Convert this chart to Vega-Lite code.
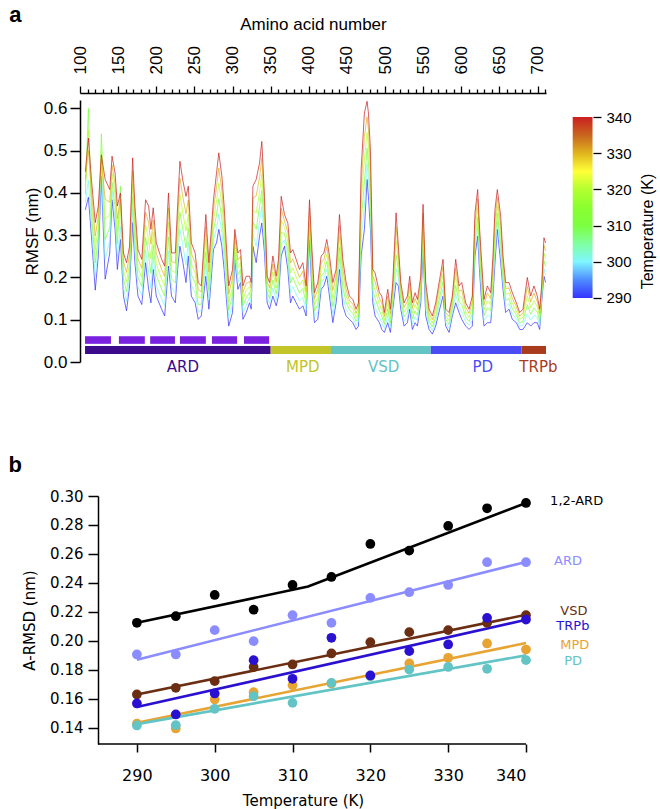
{
"$schema": "https://vega.github.io/schema/vega-lite/v6.json",
"background": "white",
"padding": {"left": 8, "top": 3, "right": 5, "bottom": 5},
"spacing": 78,
"config": {"view": {"stroke": null}, "axis": {"grid": false}},
"resolve": {"scale": {"color": "independent", "fill": "independent"}},
"vconcat": [
{
"width": 466, "height": 262,
"title": {"text": "a", "anchor": "start", "frame": "bounds", "fontSize": 22, "fontWeight": "bold", "font": "Liberation Sans", "offset": -11, "dx": -14},
"resolve": {"scale": {"x": "independent", "y": "independent"}},
"layer": [
{
"encoding": {
"x": {"field": "r", "type": "quantitative", "scale": {"domain": [100, 711], "nice": false, "zero": false},
"axis": {"orient": "top", "values": [100,110,120,130,140,150,160,170,180,190,200,210,220,230,240,250,260,270,280,290,300,310,320,330,340,350,360,370,380,390,400,410,420,430,440,450,460,470,480,490,500,510,520,530,540,550,560,570,580,590,600,610,620,630,640,650,660,670,680,690,700,710],
"labelExpr": "datum.value % 50 === 0 ? datum.label : ''", "labelAngle": 270, "labelAlign": "left", "labelBaseline": "middle",
"tickSize": {"condition": {"test": "datum.value % 50 === 0", "value": 7}, "value": 4},
"title": "Amino acid number", "offset": 7, "domainColor": "black", "tickColor": "black", "domainWidth": 1.5, "tickWidth": 1.3,
"labelFont": "Liberation Sans", "labelFontSize": 17, "labelColor": "black", "labelPadding": 12, "labelOverlap": false, "labelFlush": false, "labelBound": false,
"titleFont": "Liberation Sans", "titleFontSize": 17, "titleFontWeight": "normal", "titleColor": "black", "titlePadding": 12}}
},
"layer": [
{
"data": {"values": [
{"r":107,"290":0.36,"300":0.378,"310":0.396,"320":0.414,"330":0.432,"340":0.45},
{"r":111,"290":0.39,"300":0.43,"310":0.6,"320":0.55,"330":0.5,"340":0.53},
{"r":115,"290":0.298,"300":0.325,"310":0.352,"320":0.378,"330":0.405,"340":0.432},
{"r":120,"290":0.17,"300":0.202,"310":0.234,"320":0.266,"330":0.298,"340":0.33},
{"r":124,"290":0.251,"300":0.275,"310":0.298,"320":0.322,"330":0.345,"340":0.369},
{"r":128,"290":0.44,"300":0.46,"310":0.54,"320":0.5,"330":0.48,"340":0.49},
{"r":133,"290":0.196,"300":0.243,"310":0.29,"320":0.338,"330":0.385,"340":0.432},
{"r":139,"290":0.258,"300":0.288,"310":0.318,"320":0.348,"330":0.378,"340":0.408},
{"r":142,"290":0.384,"300":0.405,"310":0.425,"320":0.446,"330":0.466,"340":0.487},
{"r":146,"290":0.314,"300":0.341,"310":0.367,"320":0.394,"330":0.42,"340":0.447},
{"r":149,"290":0.219,"300":0.249,"310":0.279,"320":0.309,"330":0.339,"340":0.369},
{"r":153,"290":0.29,"300":0.32,"310":0.416,"320":0.37,"330":0.385,"340":0.4},
{"r":157,"290":0.156,"300":0.176,"310":0.197,"320":0.217,"330":0.238,"340":0.258},
{"r":161,"290":0.121,"300":0.144,"310":0.167,"320":0.189,"330":0.212,"340":0.235},
{"r":165,"290":0.18,"300":0.199,"310":0.218,"320":0.236,"330":0.255,"340":0.274},
{"r":169,"290":0.33,"300":0.361,"310":0.391,"320":0.422,"330":0.452,"340":0.483},
{"r":172,"290":0.235,"300":0.262,"310":0.289,"320":0.315,"330":0.342,"340":0.369},
{"r":176,"290":0.156,"300":0.178,"310":0.2,"320":0.222,"330":0.244,"340":0.266},
{"r":181,"290":0.136,"300":0.157,"310":0.179,"320":0.2,"330":0.222,"340":0.243},
{"r":186,"290":0.235,"300":0.265,"310":0.295,"320":0.324,"330":0.354,"340":0.384},
{"r":190,"290":0.172,"300":0.211,"310":0.251,"320":0.29,"330":0.33,"340":0.369},
{"r":193,"290":0.14,"300":0.175,"310":0.21,"320":0.244,"330":0.279,"340":0.314},
{"r":196,"290":0.219,"300":0.248,"310":0.277,"320":0.307,"330":0.336,"340":0.365},
{"r":200,"290":0.156,"300":0.181,"310":0.206,"320":0.232,"330":0.257,"340":0.282},
{"r":207,"290":0.125,"300":0.149,"310":0.172,"320":0.196,"330":0.219,"340":0.243},
{"r":211,"290":0.109,"300":0.133,"310":0.156,"320":0.18,"330":0.203,"340":0.227},
{"r":216,"290":0.227,"300":0.262,"310":0.296,"320":0.331,"330":0.365,"340":0.4},
{"r":220,"290":0.156,"300":0.176,"310":0.197,"320":0.217,"330":0.238,"340":0.258},
{"r":225,"290":0.14,"300":0.164,"310":0.187,"320":0.211,"330":0.234,"340":0.258},
{"r":228,"290":0.219,"300":0.249,"310":0.279,"320":0.309,"330":0.339,"340":0.369},
{"r":231,"290":0.274,"300":0.314,"310":0.354,"320":0.395,"330":0.435,"340":0.475},
{"r":235,"290":0.235,"300":0.274,"310":0.312,"320":0.351,"330":0.389,"340":0.428},
{"r":239,"290":0.188,"300":0.229,"310":0.27,"320":0.31,"330":0.351,"340":0.392},
{"r":242,"290":0.251,"300":0.284,"310":0.317,"320":0.35,"330":0.383,"340":0.416},
{"r":246,"290":0.156,"300":0.181,"310":0.206,"320":0.232,"330":0.257,"340":0.282},
{"r":251,"290":0.14,"300":0.164,"310":0.187,"320":0.211,"330":0.234,"340":0.258},
{"r":255,"290":0.101,"300":0.118,"310":0.136,"320":0.153,"330":0.171,"340":0.188},
{"r":259,"290":0.109,"300":0.123,"310":0.137,"320":0.152,"330":0.166,"340":0.18},
{"r":265,"290":0.203,"300":0.232,"310":0.261,"320":0.291,"330":0.32,"340":0.349},
{"r":269,"290":0.125,"300":0.147,"310":0.169,"320":0.191,"330":0.213,"340":0.235},
{"r":275,"290":0.266,"300":0.29,"310":0.313,"320":0.337,"330":0.36,"340":0.384},
{"r":279,"290":0.282,"300":0.315,"310":0.348,"320":0.381,"330":0.414,"340":0.447},
{"r":282,"290":0.314,"300":0.35,"310":0.386,"320":0.423,"330":0.459,"340":0.495},
{"r":286,"290":0.274,"300":0.307,"310":0.34,"320":0.374,"330":0.407,"340":0.44},
{"r":289,"290":0.219,"300":0.249,"310":0.279,"320":0.309,"330":0.339,"340":0.369},
{"r":292,"290":0.148,"300":0.173,"310":0.198,"320":0.224,"330":0.249,"340":0.274},
{"r":295,"290":0.085,"300":0.104,"310":0.123,"320":0.142,"330":0.161,"340":0.18},
{"r":300,"290":0.117,"300":0.137,"310":0.158,"320":0.178,"330":0.199,"340":0.219},
{"r":303,"290":0.243,"300":0.257,"310":0.271,"320":0.286,"330":0.3,"340":0.314},
{"r":307,"290":0.172,"300":0.189,"310":0.206,"320":0.224,"330":0.241,"340":0.258},
{"r":310.5,"290":0.188,"300":0.204,"310":0.219,"320":0.235,"330":0.25,"340":0.266},
{"r":313.6,"290":0.101,"300":0.117,"310":0.133,"320":0.148,"330":0.164,"340":0.18},
{"r":317.9,"290":0.117,"300":0.134,"310":0.151,"320":0.169,"330":0.186,"340":0.203},
{"r":322.3,"290":0.14,"300":0.153,"310":0.165,"320":0.178,"330":0.19,"340":0.203},
{"r":324.5,"290":0.125,"300":0.138,"310":0.15,"320":0.163,"330":0.175,"340":0.188},
{"r":326.7,"290":0.274,"300":0.302,"310":0.331,"320":0.359,"330":0.388,"340":0.416},
{"r":331,"290":0.235,"300":0.274,"310":0.314,"320":0.353,"330":0.393,"340":0.432},
{"r":335.4,"290":0.298,"300":0.333,"310":0.367,"320":0.402,"330":0.436,"340":0.471},
{"r":338.4,"290":0.329,"300":0.368,"310":0.406,"320":0.445,"330":0.483,"340":0.522},
{"r":341.9,"290":0.258,"300":0.285,"310":0.312,"320":0.338,"330":0.365,"340":0.392},
{"r":345.4,"290":0.14,"300":0.153,"310":0.165,"320":0.178,"330":0.19,"340":0.203},
{"r":348.5,"290":0.125,"300":0.138,"310":0.15,"320":0.163,"330":0.175,"340":0.188},
{"r":352.9,"290":0.156,"300":0.175,"310":0.194,"320":0.213,"330":0.232,"340":0.251},
{"r":357.2,"290":0.133,"300":0.147,"310":0.161,"320":0.175,"330":0.189,"340":0.203},
{"r":360.3,"290":0.156,"300":0.173,"310":0.191,"320":0.208,"330":0.226,"340":0.243},
{"r":363.8,"290":0.251,"300":0.279,"310":0.307,"320":0.336,"330":0.364,"340":0.392},
{"r":368.1,"290":0.274,"300":0.289,"310":0.304,"320":0.319,"330":0.334,"340":0.349},
{"r":372.5,"290":0.219,"300":0.241,"310":0.263,"320":0.285,"330":0.307,"340":0.329},
{"r":376,"290":0.14,"300":0.164,"310":0.187,"320":0.211,"330":0.234,"340":0.258},
{"r":379,"290":0.156,"300":0.178,"310":0.2,"320":0.222,"330":0.244,"340":0.266},
{"r":383.4,"290":0.14,"300":0.161,"310":0.181,"320":0.202,"330":0.222,"340":0.243},
{"r":387.8,"290":0.125,"300":0.144,"310":0.163,"320":0.181,"330":0.2,"340":0.219},
{"r":392.2,"290":0.133,"300":0.153,"310":0.174,"320":0.194,"330":0.215,"340":0.235},
{"r":396.5,"290":0.109,"300":0.123,"310":0.137,"320":0.152,"330":0.166,"340":0.18},
{"r":400.9,"290":0.29,"300":0.309,"310":0.328,"320":0.346,"330":0.365,"340":0.384},
{"r":403.9,"290":0.172,"300":0.192,"310":0.213,"320":0.233,"330":0.254,"340":0.274},
{"r":407.4,"290":0.093,"300":0.107,"310":0.121,"320":0.136,"330":0.15,"340":0.164},
{"r":411.8,"290":0.101,"300":0.118,"310":0.136,"320":0.153,"330":0.171,"340":0.188},
{"r":416.2,"290":0.172,"300":0.188,"310":0.204,"320":0.219,"330":0.235,"340":0.251},
{"r":419.7,"290":0.18,"300":0.196,"310":0.211,"320":0.227,"330":0.242,"340":0.258},
{"r":423.6,"290":0.203,"300":0.22,"310":0.238,"320":0.255,"330":0.273,"340":0.29},
{"r":427.1,"290":0.156,"300":0.175,"310":0.194,"320":0.213,"330":0.232,"340":0.251},
{"r":431.5,"290":0.093,"300":0.112,"310":0.131,"320":0.15,"330":0.169,"340":0.188},
{"r":435.8,"290":0.14,"300":0.156,"310":0.172,"320":0.187,"330":0.203,"340":0.219},
{"r":440.2,"290":0.219,"300":0.245,"310":0.271,"320":0.297,"330":0.323,"340":0.349},
{"r":444.6,"290":0.133,"300":0.155,"310":0.177,"320":0.199,"330":0.221,"340":0.243},
{"r":448.9,"290":0.109,"300":0.125,"310":0.141,"320":0.156,"330":0.172,"340":0.188},
{"r":453.3,"290":0.101,"300":0.112,"310":0.123,"320":0.134,"330":0.145,"340":0.156},
{"r":457.7,"290":0.093,"300":0.104,"310":0.115,"320":0.126,"330":0.137,"340":0.148},
{"r":462,"290":0.077,"300":0.087,"310":0.096,"320":0.106,"330":0.115,"340":0.125},
{"r":465.1,"290":0.085,"300":0.096,"310":0.107,"320":0.118,"330":0.129,"340":0.14},
{"r":468.6,"290":0.251,"300":0.292,"310":0.333,"320":0.373,"330":0.414,"340":0.455},
{"r":472.9,"290":0.314,"300":0.369,"310":0.424,"320":0.479,"330":0.534,"340":0.589},
{"r":476.4,"290":0.432,"300":0.469,"310":0.506,"320":0.543,"330":0.58,"340":0.617},
{"r":478.2,"290":0.392,"300":0.431,"310":0.471,"320":0.51,"330":0.55,"340":0.589},
{"r":480.8,"290":0.314,"300":0.352,"310":0.389,"320":0.427,"330":0.464,"340":0.502},
{"r":483.9,"290":0.14,"300":0.156,"310":0.172,"320":0.187,"330":0.203,"340":0.219},
{"r":486.9,"290":0.109,"300":0.129,"310":0.15,"320":0.17,"330":0.191,"340":0.211},
{"r":492.6,"290":0.093,"300":0.107,"310":0.121,"320":0.136,"330":0.15,"340":0.164},
{"r":495.7,"290":0.077,"300":0.093,"310":0.109,"320":0.124,"330":0.14,"340":0.156},
{"r":499.1,"290":0.07,"300":0.079,"310":0.089,"320":0.098,"330":0.108,"340":0.117},
{"r":503.5,"290":0.093,"300":0.109,"310":0.125,"320":0.14,"330":0.156,"340":0.172},
{"r":507,"290":0.07,"300":0.081,"310":0.092,"320":0.103,"330":0.114,"340":0.125},
{"r":510.1,"290":0.125,"300":0.138,"310":0.15,"320":0.163,"330":0.175,"340":0.188},
{"r":514.4,"290":0.188,"300":0.221,"310":0.254,"320":0.287,"330":0.32,"340":0.353},
{"r":517.5,"290":0.18,"300":0.199,"310":0.218,"320":0.236,"330":0.255,"340":0.274},
{"r":520.6,"290":0.125,"300":0.138,"310":0.15,"320":0.163,"330":0.175,"340":0.188},
{"r":524.9,"290":0.085,"300":0.096,"310":0.107,"320":0.118,"330":0.129,"340":0.14},
{"r":529.3,"290":0.093,"300":0.106,"310":0.118,"320":0.131,"330":0.143,"340":0.156},
{"r":532.3,"290":0.125,"300":0.141,"310":0.156,"320":0.172,"330":0.187,"340":0.203},
{"r":535.8,"290":0.077,"300":0.09,"310":0.102,"320":0.115,"330":0.127,"340":0.14},
{"r":539.3,"290":0.093,"300":0.107,"310":0.121,"320":0.136,"330":0.15,"340":0.164},
{"r":542.4,"290":0.085,"300":0.098,"310":0.11,"320":0.123,"330":0.135,"340":0.148},
{"r":546.8,"290":0.14,"300":0.153,"310":0.165,"320":0.178,"330":0.19,"340":0.203},
{"r":549.8,"290":0.266,"300":0.287,"310":0.309,"320":0.33,"330":0.352,"340":0.373},
{"r":553.3,"290":0.109,"300":0.125,"310":0.141,"320":0.156,"330":0.172,"340":0.188},
{"r":557.7,"290":0.077,"300":0.087,"310":0.096,"320":0.106,"330":0.115,"340":0.125},
{"r":562,"290":0.066,"300":0.075,"310":0.083,"320":0.092,"330":0.1,"340":0.109},
{"r":566.4,"290":0.085,"300":0.096,"310":0.107,"320":0.118,"330":0.129,"340":0.14},
{"r":571.6,"290":0.125,"300":0.139,"310":0.153,"320":0.168,"330":0.182,"340":0.196},
{"r":576,"290":0.156,"300":0.173,"310":0.191,"320":0.208,"330":0.226,"340":0.243},
{"r":579.5,"290":0.085,"300":0.093,"310":0.101,"320":0.109,"330":0.117,"340":0.125},
{"r":583.9,"290":0.07,"300":0.079,"310":0.089,"320":0.098,"330":0.108,"340":0.117},
{"r":588.2,"290":0.109,"300":0.118,"310":0.128,"320":0.137,"330":0.147,"340":0.156},
{"r":592.6,"290":0.14,"300":0.161,"310":0.181,"320":0.202,"330":0.222,"340":0.243},
{"r":597,"290":0.117,"300":0.13,"310":0.142,"320":0.155,"330":0.167,"340":0.18},
{"r":600.5,"290":0.101,"300":0.118,"310":0.136,"320":0.153,"330":0.171,"340":0.188},
{"r":605.7,"290":0.085,"300":0.096,"310":0.107,"320":0.118,"330":0.129,"340":0.14},
{"r":610.1,"290":0.077,"300":0.087,"310":0.096,"320":0.106,"330":0.115,"340":0.125},
{"r":614.4,"290":0.085,"300":0.099,"310":0.113,"320":0.128,"330":0.142,"340":0.156},
{"r":617.9,"290":0.251,"300":0.271,"310":0.292,"320":0.312,"330":0.333,"340":0.353},
{"r":621.4,"290":0.298,"300":0.32,"310":0.342,"320":0.364,"330":0.386,"340":0.408},
{"r":624,"290":0.211,"300":0.232,"310":0.252,"320":0.273,"330":0.293,"340":0.314},
{"r":626.7,"290":0.14,"300":0.159,"310":0.178,"320":0.197,"330":0.216,"340":0.235},
{"r":629.7,"290":0.085,"300":0.098,"310":0.11,"320":0.123,"330":0.135,"340":0.148},
{"r":634.1,"290":0.093,"300":0.11,"310":0.128,"320":0.145,"330":0.163,"340":0.18},
{"r":638.5,"290":0.093,"300":0.107,"310":0.121,"320":0.136,"330":0.15,"340":0.164},
{"r":641.5,"290":0.156,"300":0.175,"310":0.194,"320":0.213,"330":0.232,"340":0.251},
{"r":644.1,"290":0.235,"300":0.26,"310":0.285,"320":0.311,"330":0.336,"340":0.361},
{"r":647.2,"290":0.314,"300":0.333,"310":0.352,"320":0.37,"330":0.389,"340":0.408},
{"r":651.6,"290":0.235,"300":0.257,"310":0.279,"320":0.301,"330":0.323,"340":0.345},
{"r":654.6,"290":0.172,"300":0.188,"310":0.204,"320":0.219,"330":0.235,"340":0.251},
{"r":658.1,"290":0.117,"300":0.131,"310":0.145,"320":0.16,"330":0.174,"340":0.188},
{"r":662.5,"290":0.125,"300":0.138,"310":0.15,"320":0.163,"330":0.175,"340":0.188},
{"r":666.8,"290":0.101,"300":0.114,"310":0.126,"320":0.139,"330":0.151,"340":0.164},
{"r":672.1,"290":0.093,"300":0.102,"310":0.112,"320":0.121,"330":0.131,"340":0.14},
{"r":676.5,"290":0.077,"300":0.085,"310":0.093,"320":0.101,"330":0.109,"340":0.117},
{"r":680.8,"290":0.077,"300":0.087,"310":0.096,"320":0.106,"330":0.115,"340":0.125},
{"r":686.5,"290":0.093,"300":0.114,"310":0.136,"320":0.157,"330":0.179,"340":0.2},
{"r":690.9,"290":0.085,"300":0.099,"310":0.113,"320":0.128,"330":0.142,"340":0.156},
{"r":695.2,"290":0.093,"300":0.11,"310":0.128,"320":0.145,"330":0.163,"340":0.18},
{"r":699.6,"290":0.093,"300":0.106,"310":0.118,"320":0.131,"330":0.143,"340":0.156},
{"r":702.7,"290":0.077,"300":0.087,"310":0.096,"320":0.106,"330":0.115,"340":0.125},
{"r":705.3,"290":0.14,"300":0.148,"310":0.156,"320":0.164,"330":0.172,"340":0.18},
{"r":708.3,"290":0.203,"300":0.221,"310":0.24,"320":0.258,"330":0.276,"340":0.294},
{"r":710.5,"290":0.188,"300":0.207,"310":0.226,"320":0.244,"330":0.263,"340":0.282}
]},
"transform": [{"fold": ["290","300","310","320","330","340"], "as": ["T","v"]}],
"mark": {"type": "line", "strokeWidth": 0.8, "opacity": 0.9},
"encoding": {
"y": {"field": "v", "type": "quantitative", "scale": {"domain": [0, 0.62], "nice": false},
"axis": {"values": [0,0.1,0.2,0.3,0.4,0.5,0.6], "format": ".1f", "title": "RMSF (nm)", "tickSize": 10, "labelPadding": 3, "labelOverlap": false,
"domainColor": "black", "tickColor": "black", "domainWidth": 1.5, "tickWidth": 1.5,
"labelFont": "Liberation Sans", "labelFontSize": 17, "labelColor": "black",
"titleFont": "Liberation Sans", "titleFontSize": 17, "titleFontWeight": "normal", "titleColor": "black", "titlePadding": 2}},
"color": {"field": "T", "type": "quantitative", "legend": null,
"scale": {"domain": [290,295,300,305,310,315,320,325,330,335,340], "range": ["#3333ff","#4f8cff","#80f6ff","#80ffa0","#7cff40","#8aff30","#b4ff30","#ffff38","#e0b41e","#c8641e","#cc2020"]}}
}
},
{
"data": {"values": [
{"dom": "ARD", "r": 106.6, "e": 350},
{"dom": "MPD", "r": 350, "e": 429},
{"dom": "VSD", "r": 429, "e": 560},
{"dom": "PD", "r": 560, "e": 679},
{"dom": "TRPb", "r": 679, "e": 711}
]},
"mark": {"type": "rect"},
"encoding": {
"x2": {"field": "e"},
"y": {"datum": 0.019},
"y2": {"datum": 0.038},
"fill": {"field": "dom", "type": "nominal", "legend": null,
"scale": {"domain": ["ARD","MPD","VSD","PD","TRPb"], "range": ["#3d0a8c","#c2c428","#64c3c3","#4c4cf6","#a83c1c"]}}
}
},
{
"data": {"values": [
{"r": 106.6, "e": 140.6}, {"r": 151, "e": 185}, {"r": 192, "e": 224.5},
{"r": 231, "e": 265}, {"r": 273, "e": 306}, {"r": 315, "e": 348}
]},
"mark": {"type": "rect", "color": "#7a22e0"},
"encoding": {
"x2": {"field": "e"},
"y": {"datum": 0.043},
"y2": {"datum": 0.061}
}
},
{
"data": {"values": [
{"dom": "ARD", "r": 235}, {"dom": "MPD", "r": 392}, {"dom": "VSD", "r": 498}, {"dom": "PD", "r": 628}, {"dom": "TRPb", "r": 701}
]},
"mark": {"type": "text", "font": "DejaVu Sans", "fontSize": 15, "baseline": "middle", "align": "center"},
"encoding": {
"y": {"datum": -0.012},
"text": {"field": "dom"},
"fill": {"field": "dom", "type": "nominal", "legend": null}
}
}
]
},
{
"data": {"values": [{}]},
"mark": {"type": "rect", "fill": {"gradient": "linear", "x1": 0, "y1": 1, "x2": 0, "y2": 0,
"stops": [{"offset": 0, "color": "#3333ff"}, {"offset": 0.1, "color": "#4f8cff"}, {"offset": 0.2, "color": "#80f6ff"}, {"offset": 0.3, "color": "#80ffa0"}, {"offset": 0.4, "color": "#7cff40"}, {"offset": 0.5, "color": "#8aff30"}, {"offset": 0.6, "color": "#b4ff30"}, {"offset": 0.7, "color": "#ffff38"}, {"offset": 0.8, "color": "#e0b41e"}, {"offset": 0.9, "color": "#c8641e"}, {"offset": 1, "color": "#cc2020"}]}},
"encoding": {
"x": {"datum": 746, "type": "quantitative", "scale": {"domain": [100, 711], "nice": false, "zero": false}, "axis": null},
"x2": {"datum": 772},
"y": {"datum": 290, "type": "quantitative", "scale": {"domain": [272.3, 344.7], "nice": false, "zero": false},
"axis": {"orient": "right", "offset": 47, "values": [290,300,310,320,330,340], "domain": false, "tickSize": 8, "tickWidth": 1.3, "tickColor": "black", "labelPadding": 5,
"labelFont": "Liberation Sans", "labelFontSize": 15, "labelColor": "black",
"title": "Temperature (K)", "titleAngle": 270, "titleBaseline": "top", "titleFont": "Liberation Sans", "titleFontSize": 16, "titleFontWeight": "normal", "titleColor": "black", "titlePadding": 8}},
"y2": {"datum": 340}
}
}
]
},
{
"width": 446, "height": 248,
"title": {"text": "b", "anchor": "start", "frame": "bounds", "fontSize": 22, "fontWeight": "bold", "font": "Liberation Sans", "offset": 12, "dx": -14},
"encoding": {
"x": {"field": "T", "type": "quantitative", "scale": {"domain": [282.69, 340], "nice": false, "zero": false},
"axis": {"values": [290,300,310,320,330,340], "title": "Temperature (K)", "domain": false, "tickSize": 8, "labelPadding": 15, "labelOverlap": false,
"tickColor": "black", "tickWidth": 1.5,
"labelFont": "DejaVu Sans", "labelFontSize": 16, "labelColor": "black",
"titleFont": "DejaVu Sans", "titleFontSize": 15, "titleFontWeight": "normal", "titleColor": "black", "titlePadding": 10}},
"y": {"field": "v", "type": "quantitative", "scale": {"domain": [0.1288, 0.3], "nice": false, "zero": false},
"axis": {"values": [0.14,0.16,0.18,0.2,0.22,0.24,0.26,0.28,0.3], "format": ".2f", "title": "A-RMSD (nm)", "offset": -18, "tickSize": 10, "labelPadding": 5, "labelOverlap": false,
"domainColor": "black", "tickColor": "black", "domainWidth": 1.5, "tickWidth": 1.5,
"labelFont": "DejaVu Sans", "labelFontSize": 15, "labelColor": "black",
"titleFont": "DejaVu Sans", "titleFontSize": 15, "titleFontWeight": "normal", "titleColor": "black", "titlePadding": 12}}
},
"layer": [
{
"data": {"values": [{"T": 285, "v": 0.1288}, {"T": 340, "v": 0.1288}]},
"mark": {"type": "line", "color": "black", "strokeWidth": 1.5},
"encoding": {}
},
{
"data": {"values": [
{"g": "1,2-ARD", "T": 290, "v": 0.2125}, {"g": "1,2-ARD", "T": 312, "v": 0.2375}, {"g": "1,2-ARD", "T": 340, "v": 0.2952},
{"g": "ARD", "T": 290, "v": 0.187}, {"g": "ARD", "T": 340, "v": 0.2545},
{"g": "VSD", "T": 290, "v": 0.163}, {"g": "VSD", "T": 340, "v": 0.218},
{"g": "TRPb", "T": 290, "v": 0.1543}, {"g": "TRPb", "T": 340, "v": 0.2145},
{"g": "MPD", "T": 290, "v": 0.1435}, {"g": "MPD", "T": 340, "v": 0.1985},
{"g": "PD", "T": 290, "v": 0.1425}, {"g": "PD", "T": 340, "v": 0.19}
]},
"mark": {"type": "line", "strokeWidth": 2.6},
"encoding": {
"color": {"field": "g", "type": "nominal", "legend": null,
"scale": {"domain": ["1,2-ARD","ARD","VSD","TRPb","MPD","PD"], "range": ["#000000","#8a8cff","#6b2e12","#2a10d0","#e8a432","#62c4c4"]}}
}
},
{
"data": {"values": [
{"g":"1,2-ARD","T":290,"v":0.2125},{"g":"1,2-ARD","T":295,"v":0.217},{"g":"1,2-ARD","T":300,"v":0.2317},{"g":"1,2-ARD","T":305,"v":0.2215},{"g":"1,2-ARD","T":310,"v":0.2386},{"g":"1,2-ARD","T":315,"v":0.2441},{"g":"1,2-ARD","T":320,"v":0.2669},{"g":"1,2-ARD","T":325,"v":0.2623},{"g":"1,2-ARD","T":330,"v":0.2793},{"g":"1,2-ARD","T":335,"v":0.2915},{"g":"1,2-ARD","T":340,"v":0.2952},
{"g":"ARD","T":290,"v":0.1906},{"g":"ARD","T":295,"v":0.1906},{"g":"ARD","T":300,"v":0.2074},{"g":"ARD","T":305,"v":0.1998},{"g":"ARD","T":310,"v":0.2177},{"g":"ARD","T":315,"v":0.2124},{"g":"ARD","T":320,"v":0.2297},{"g":"ARD","T":325,"v":0.2336},{"g":"ARD","T":330,"v":0.2386},{"g":"ARD","T":335,"v":0.2543},{"g":"ARD","T":340,"v":0.2543},
{"g":"VSD","T":290,"v":0.163},{"g":"VSD","T":295,"v":0.1676},{"g":"VSD","T":300,"v":0.1722},{"g":"VSD","T":305,"v":0.182},{"g":"VSD","T":310,"v":0.1837},{"g":"VSD","T":315,"v":0.1913},{"g":"VSD","T":320,"v":0.1991},{"g":"VSD","T":325,"v":0.206},{"g":"VSD","T":330,"v":0.2074},{"g":"VSD","T":335,"v":0.2124},{"g":"VSD","T":340,"v":0.2177},
{"g":"MPD","T":290,"v":0.1428},{"g":"MPD","T":295,"v":0.1395},{"g":"MPD","T":300,"v":0.1595},{"g":"MPD","T":305,"v":0.1646},{"g":"MPD","T":310,"v":0.1694},{"g":"MPD","T":315,"v":0.1706},{"g":"MPD","T":320,"v":0.1756},{"g":"MPD","T":325,"v":0.1844},{"g":"MPD","T":330,"v":0.1883},{"g":"MPD","T":335,"v":0.1982},{"g":"MPD","T":340,"v":0.194},
{"g":"PD","T":290,"v":0.1416},{"g":"PD","T":295,"v":0.1418},{"g":"PD","T":300,"v":0.1531},{"g":"PD","T":305,"v":0.1618},{"g":"PD","T":310,"v":0.1572},{"g":"PD","T":315,"v":0.171},{"g":"PD","T":320,"v":0.1756},{"g":"PD","T":325,"v":0.1802},{"g":"PD","T":330,"v":0.182},{"g":"PD","T":335,"v":0.1807},{"g":"PD","T":340,"v":0.1867},
{"g":"TRPb","T":290,"v":0.1568},{"g":"TRPb","T":295,"v":0.1492},{"g":"TRPb","T":300,"v":0.1637},{"g":"TRPb","T":305,"v":0.1867},{"g":"TRPb","T":310,"v":0.1738},{"g":"TRPb","T":315,"v":0.2021},{"g":"TRPb","T":320,"v":0.1761},{"g":"TRPb","T":325,"v":0.1929},{"g":"TRPb","T":330,"v":0.1975},{"g":"TRPb","T":335,"v":0.2159},{"g":"TRPb","T":340,"v":0.2147}
]},
"mark": {"type": "point", "filled": true, "shape": "circle", "size": 95, "opacity": 1},
"encoding": {
"color": {"field": "g", "type": "nominal", "legend": null}
}
},
{
"data": {"values": [
{"g": "1,2-ARD", "T": 343.1, "v": 0.2966},
{"g": "ARD", "T": 343.6, "v": 0.2552},
{"g": "VSD", "T": 344.4, "v": 0.2207},
{"g": "TRPb", "T": 343.9, "v": 0.2103},
{"g": "MPD", "T": 344.4, "v": 0.1972},
{"g": "PD", "T": 344.9, "v": 0.1862}
]},
"mark": {"type": "text", "align": "left", "baseline": "middle", "font": "DejaVu Sans", "fontSize": 13},
"encoding": {
"text": {"field": "g"},
"color": {"field": "g", "type": "nominal", "legend": null}
}
}
]
}
]
}
